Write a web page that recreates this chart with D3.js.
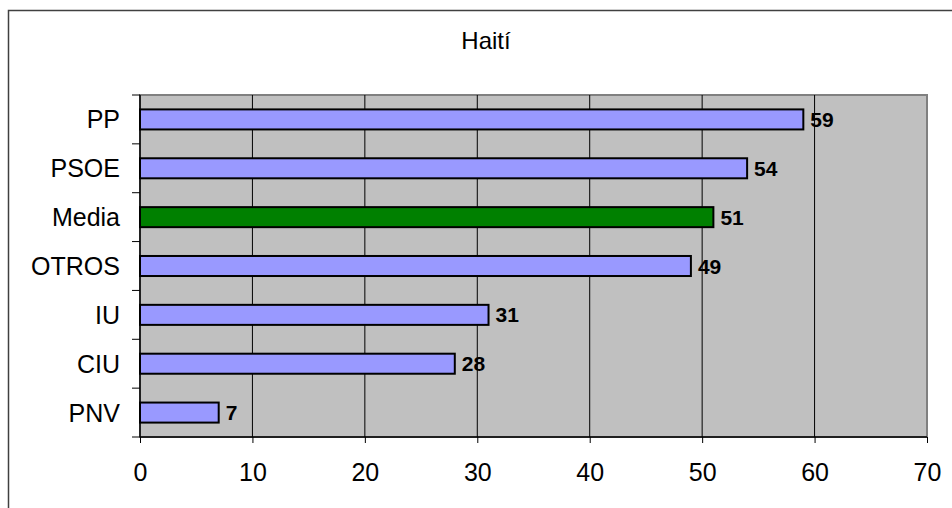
<!DOCTYPE html>
<html><head><meta charset="utf-8">
<script src="https://cdn.jsdelivr.net/npm/d3@7"></script>
<style>body{margin:0;background:#fff}svg{display:block;font-family:"Liberation Sans",Arial,sans-serif}</style>
</head><body>
<svg id="c" width="952" height="508"></svg>
<script>
const categories = ["PP","PSOE","Media","OTROS","IU","CIU","PNV"];
const values = [59,54,51,49,31,28,7];
const highlight = ["Media"];
const xTicks = [0,10,20,30,40,50,60,70];
const title = "Haití";

const svg = d3.select("#c");
const m = {l:140, t:95, r:927, b:437};
svg.append("rect").attr("x",8.5).attr("y",10.5).attr("width",960).attr("height",520)
  .attr("fill","#fff").attr("stroke","#404040").attr("stroke-width",1.5);

const x = d3.scaleLinear().domain([0,70]).range([m.l,m.r]);
const y = d3.scaleBand().domain(categories).range([m.t,m.b]).paddingInner(0.59).paddingOuter(0.295);
const yb = d3.scaleBand().domain(categories).range([m.t,m.b]);

svg.append("rect").attr("x",m.l).attr("y",m.t).attr("width",m.r-m.l).attr("height",m.b-m.t)
  .attr("fill","#c0c0c0").attr("stroke","#808080").attr("stroke-width",2);

svg.append("g").selectAll("line").data(xTicks.slice(1,-1)).join("line")
  .attr("x1",d=>x(d)).attr("x2",d=>x(d)).attr("y1",m.t).attr("y2",m.b)
  .attr("stroke","#000").attr("stroke-width",1);

svg.append("g").selectAll("rect").data(categories).join("rect")
  .attr("x",x(0)).attr("y",d=>y(d)).attr("width",(d,i)=>x(values[i])-x(0)).attr("height",y.bandwidth())
  .attr("fill",d=>highlight.includes(d)?"#008000":"#9999ff").attr("stroke","#000").attr("stroke-width",2);

svg.append("g").selectAll("text").data(categories).join("text")
  .attr("x",(d,i)=>x(values[i])+7).attr("y",d=>y(d)+y.bandwidth()/2).attr("dy","0.36em")
  .attr("font-size",21).attr("font-weight","bold").text((d,i)=>values[i]);

// axes
const ax = svg.append("g").attr("transform",`translate(0,${m.b})`)
  .call(d3.axisBottom(x).tickValues(xTicks).tickSize(6).tickPadding(20).tickFormat(d3.format("d")));
ax.select(".domain").remove();
ax.selectAll("line").attr("stroke","#000");
ax.selectAll("text").attr("font-size",25).attr("font-family","Liberation Sans, Arial, sans-serif").attr("fill","#000");
svg.append("line").attr("x1",m.l).attr("x2",m.r).attr("y1",m.b).attr("y2",m.b).attr("stroke","#000").attr("stroke-width",1.5);
svg.append("line").attr("x1",m.l).attr("x2",m.l).attr("y1",m.t).attr("y2",m.b).attr("stroke","#000").attr("stroke-width",1.5);

const bounds = categories.map(c=>yb(c)).concat([m.b]);
svg.append("g").selectAll("line").data(bounds).join("line")
  .attr("x1",m.l-8).attr("x2",m.l).attr("y1",d=>d).attr("y2",d=>d).attr("stroke","#000");

svg.append("g").selectAll("text").data(categories).join("text")
  .attr("x",m.l-20).attr("y",d=>y(d)+y.bandwidth()/2).attr("dy","0.36em")
  .attr("text-anchor","end").attr("font-size",25).text(d=>d);

svg.append("text").attr("x",486).attr("y",49).attr("text-anchor","middle").attr("font-size",24).text(title);
</script>
</body></html>
